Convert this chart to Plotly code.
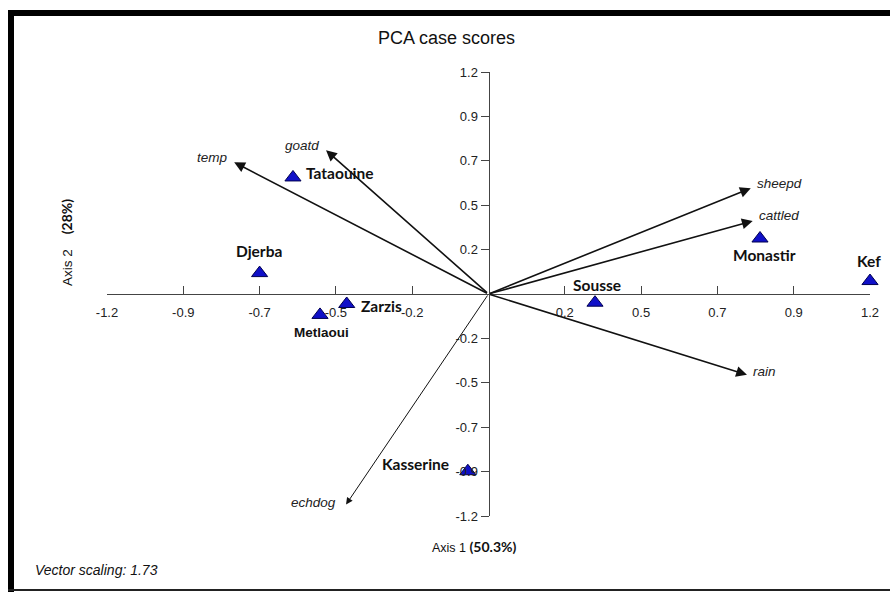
import plotly.graph_objects as go

# ---- data ----
sites = ["Tataouine", "Djerba", "Metlaoui", "Zarzis", "Sousse", "Monastir", "Kef", "Kasserine"]
site_x = [-0.615, -0.72, -0.53, -0.446, 0.335, 0.854, 1.20, -0.065]
site_y = [0.63, 0.113, -0.113, -0.054, -0.047, 0.30, 0.07, -0.958]

variables = ["temp", "goatd", "sheepd", "cattled", "rain", "echdog"]
var_x = [-0.80, -0.511, 0.825, 0.831, 0.813, -0.448]
var_y = [0.712, 0.777, 0.572, 0.395, -0.437, -1.138]

tick_vals = [-1.2, -0.96, -0.72, -0.48, -0.24, 0.24, 0.48, 0.72, 0.96, 1.2]
tick_text = ["-1.2", "-0.9", "-0.7", "-0.5", "-0.2", "0.2", "0.5", "0.7", "0.9", "1.2"]

# ---- layout constants (pixels) ----
W, H = 890, 592
ML, MR, MT, MB = 107, 20, 72, 76
PW, PH = W - ML - MR, H - MT - MB

def px_x(p):
    return (p - ML) / PW

def px_y(p):
    return (H - MB - p) / PH

# label offsets (pixels): xanchor, xshift, yshift
site_lab = {
    "Tataouine": ("left", 11, 4),
    "Djerba": ("center", -1, 22),
    "Metlaoui": ("center", 1, -18),
    "Zarzis": ("left", 12, -2),
    "Sousse": ("center", 2, 18),
    "Monastir": ("center", 4, -16),
    "Kef": ("center", -1, 20),
    "Kasserine": ("right", -17, 7),
}
var_lab = {
    "temp": ("right", -4, 5),
    "goatd": ("right", -5, 5),
    "sheepd": ("left", 4, 5),
    "cattled": ("left", 4, 5),
    "rain": ("left", 4, 3),
    "echdog": ("right", -8, 2),
}

fig = go.Figure()

fig.add_trace(go.Scatter(
    x=site_x, y=site_y, mode="markers",
    marker=dict(symbol="triangle-up", size=14, color="#1010c8",
                line=dict(color="#000050", width=1)),
    cliponaxis=False, hoverinfo="text", text=sites, showlegend=False,
))

ann = []
for name, vx, vy in zip(variables, var_x, var_y):
    w = 1.0 if name == "echdog" else 1.6
    ann.append(dict(x=vx, y=vy, ax=0, ay=0, xref="x", yref="y", axref="x", ayref="y",
                    showarrow=True, arrowhead=2, arrowsize=1.35, arrowwidth=w,
                    arrowcolor="#111111", text="", standoff=0, startstandoff=0))
    xa, xs, ys = var_lab[name]
    ann.append(dict(x=vx, y=vy, xref="x", yref="y", text=name, showarrow=False,
                    xanchor=xa, yanchor="middle", xshift=xs, yshift=ys,
                    font=dict(family="Liberation Sans, Arial", size=13.5, color="#222222",
                              style="italic")))

for name, sx, sy in zip(sites, site_x, site_y):
    xa, xs, ys = site_lab[name]
    if name == "Metlaoui":
        f = dict(family="Liberation Sans, Arial", size=13.5, color="#111111", weight="bold")
    else:
        f = dict(family="Lato, Noto Sans", size=15.5, color="#111111", weight="bold")
    ann.append(dict(x=sx, y=sy, xref="x", yref="y", text=name, showarrow=False,
                    xanchor=xa, yanchor="middle", xshift=xs, yshift=ys, font=f))

# titles & notes
ann.append(dict(x=px_x(446), y=px_y(38), xref="paper", yref="paper", text="PCA case scores",
                showarrow=False, xanchor="center", yanchor="middle",
                font=dict(family="Liberation Sans, Arial", size=18, color="#111111")))
ann.append(dict(x=px_x(474), y=px_y(546), xref="paper", yref="paper",
                text="Axis 1 <span style='font-family:Lato;font-weight:bold;font-size:14px'>(50.3%)</span>",
                showarrow=False, xanchor="center", yanchor="middle",
                font=dict(family="Liberation Sans, Arial", size=12.5, color="#111111")))
ann.append(dict(x=px_x(67), y=px_y(243), xref="paper", yref="paper",
                text="Axis 2 &nbsp;&nbsp;&nbsp;<span style='font-family:Lato;font-weight:bold;font-size:14px'>(28%)</span>",
                showarrow=False, xanchor="center", yanchor="middle", textangle=-90,
                font=dict(family="Liberation Sans, Arial", size=13.5, color="#111111")))
ann.append(dict(x=px_x(33), y=px_y(570), xref="paper", yref="paper", text="Vector scaling: 1.73",
                showarrow=False, xanchor="left", yanchor="middle",
                font=dict(family="Liberation Sans, Arial", size=14, color="#111111", style="italic")))

# outer frame
shapes = [
    dict(type="line", xref="paper", yref="paper", x0=px_x(8), x1=px_x(W), y0=px_y(13), y1=px_y(13),
         line=dict(color="#000000", width=6)),
    dict(type="line", xref="paper", yref="paper", x0=px_x(11), x1=px_x(11), y0=px_y(10), y1=px_y(H),
         line=dict(color="#000000", width=6)),
    dict(type="line", xref="paper", yref="paper", x0=px_x(8), x1=px_x(W), y0=px_y(590), y1=px_y(590),
         line=dict(color="#222222", width=2)),
]

axis_font = dict(family="Liberation Sans, Arial", size=13, color="#222222")
fig.update_layout(
    width=W, height=H,
    margin=dict(l=ML, r=MR, t=MT, b=MB),
    paper_bgcolor="white", plot_bgcolor="white",
    showlegend=False,
    annotations=ann, shapes=shapes,
    xaxis=dict(range=[-1.2, 1.2], domain=[0, 1], anchor="free", position=0.5,
               showline=True, linecolor="#444444", linewidth=1,
               ticks="inside", ticklen=8, tickcolor="#444444", tickwidth=1,
               tickvals=tick_vals, ticktext=tick_text, tickfont=axis_font,
               ticklabelstandoff=6,
               showgrid=False, zeroline=False, fixedrange=True),
    yaxis=dict(range=[-1.2, 1.2], domain=[0, 1], anchor="free", position=0.5,
               showline=True, linecolor="#444444", linewidth=1,
               ticks="outside", ticklen=8, tickcolor="#444444", tickwidth=1,
               tickvals=tick_vals, ticktext=tick_text, tickfont=axis_font,
               showgrid=False, zeroline=False, fixedrange=True),
)

fig.write_html("out.html",
               config={"displayModeBar": False},
               post_script="document.body.style.margin='0px';document.body.style.overflow='hidden';")
